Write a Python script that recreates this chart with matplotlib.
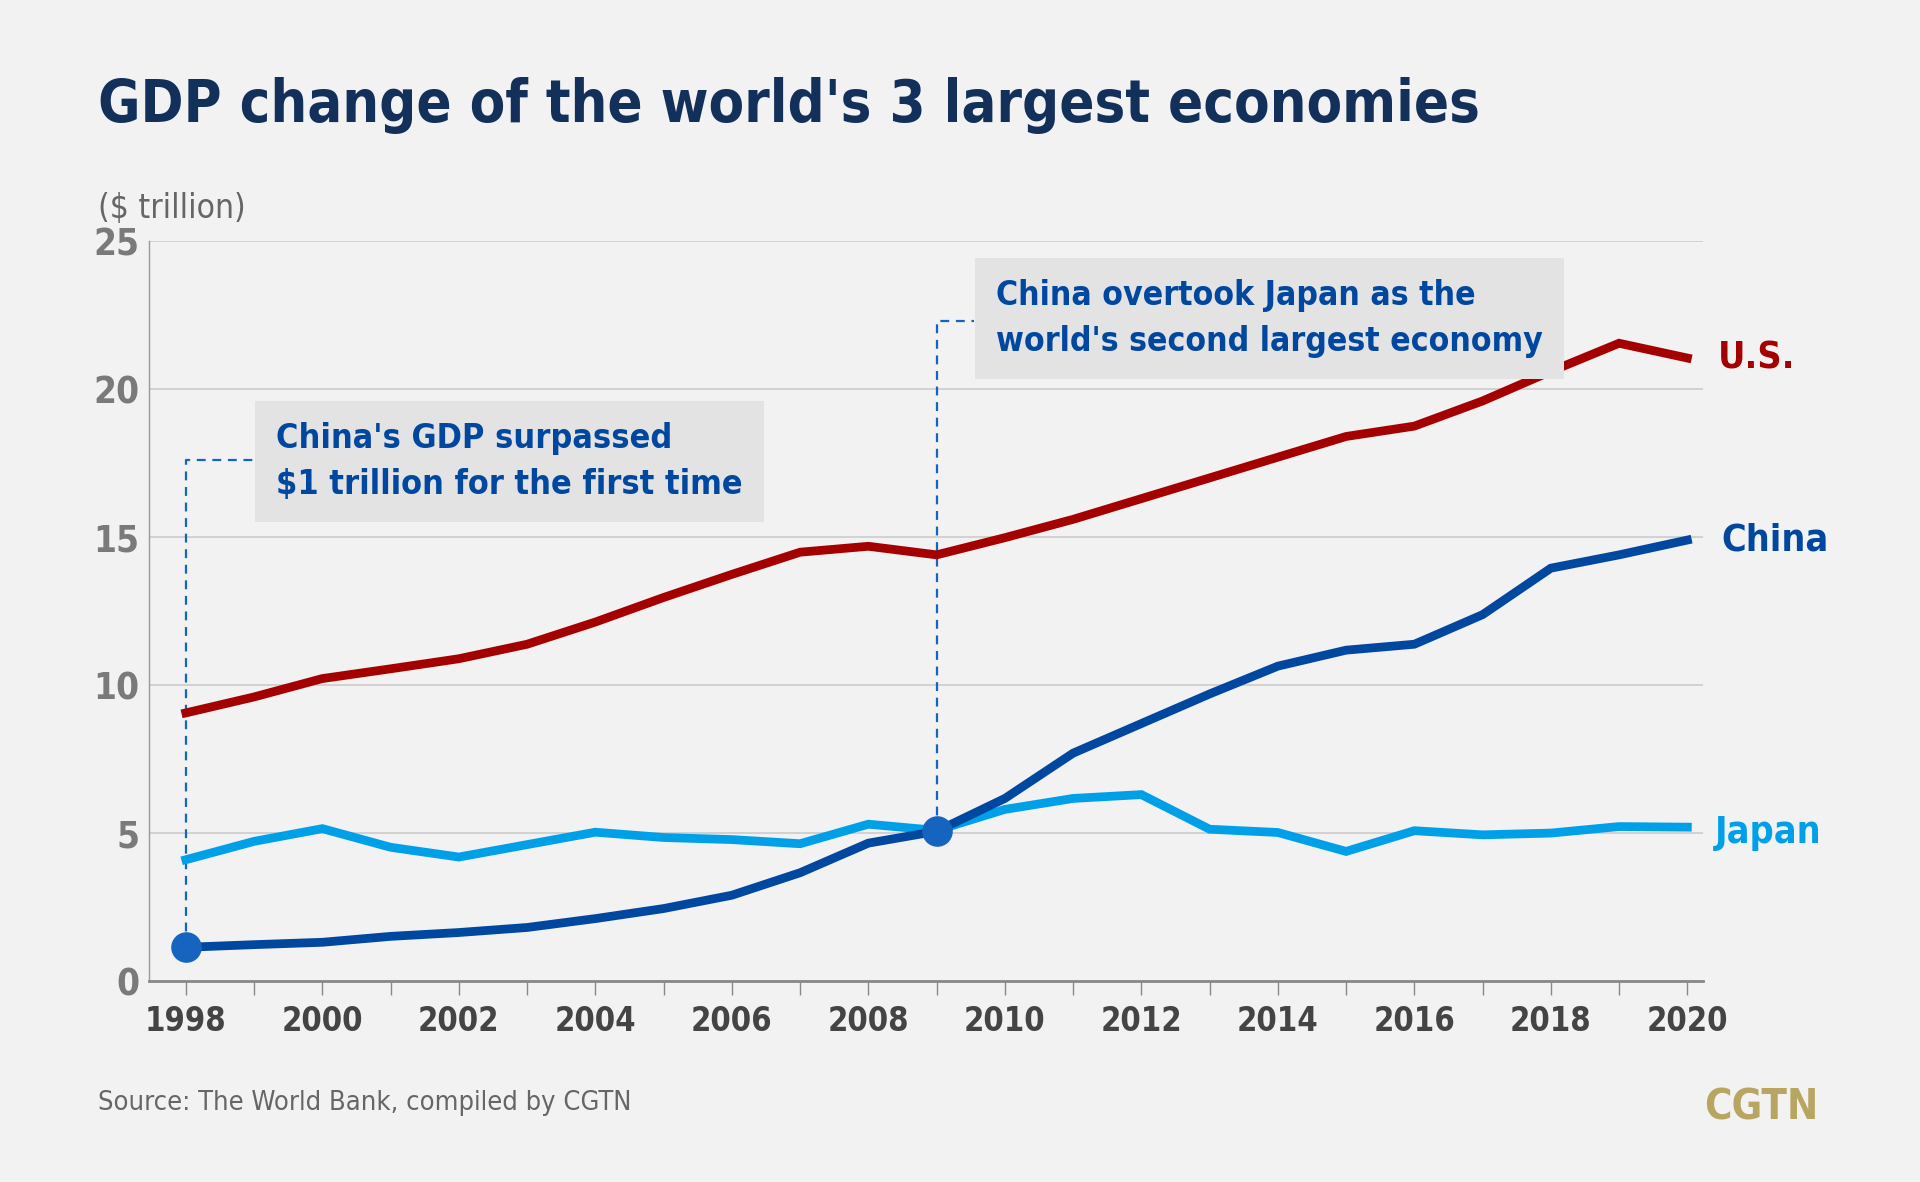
import matplotlib
matplotlib.use("Agg")
import matplotlib.pyplot as plt

plt.rcParams['font.family'] = ['DejaVu Sans']
plt.rcParams['font.stretch'] = 'condensed'

years = list(range(1998, 2021))
us = [9.06, 9.6, 10.22, 10.55, 10.89, 11.38, 12.13, 12.96, 13.74, 14.49, 14.69, 14.40,
      14.98, 15.6, 16.3, 17.0, 17.7, 18.4, 18.75, 19.6, 20.6, 21.55, 21.05]
china = [1.14, 1.23, 1.31, 1.51, 1.64, 1.81, 2.11, 2.45, 2.9, 3.66, 4.66, 5.06,
         6.17, 7.7, 8.7, 9.7, 10.64, 11.18, 11.38, 12.38, 13.95, 14.4, 14.9]
japan = [4.1, 4.72, 5.15, 4.52, 4.19, 4.61, 5.03, 4.85, 4.78, 4.64, 5.3, 5.09,
         5.8, 6.17, 6.3, 5.13, 5.02, 4.38, 5.08, 4.94, 5.0, 5.22, 5.2]
yticks = [0, 5, 10, 15, 20, 25]
xlabels = list(range(1998, 2021, 2))

BG = '#f2f2f2'
RED = '#a50000'
DBLUE = '#0047a0'
LBLUE = '#00a0e9'
NOTE = '#1565c0'

fig = plt.figure(figsize=(19.2, 11.82), dpi=100, facecolor=BG)
ax = fig.add_axes([0.0776, 0.170, 0.8094, 0.626])
ax.set_facecolor(BG)

ax.plot(years, us, color=RED, lw=6.3, solid_joinstyle='miter', zorder=3)
ax.plot(years, japan, color=LBLUE, lw=6.3, solid_joinstyle='miter', zorder=3)
ax.plot(years, china, color=DBLUE, lw=6.3, solid_joinstyle='miter', zorder=4)

ax.set_xlim(1997.46, 2020.23)
ax.set_ylim(0, 25)
ax.set_yticks(yticks)
ax.set_yticklabels([str(v) for v in yticks])
ax.set_xticks(years)
ax.set_xticklabels([str(y) if y in xlabels else '' for y in years])
ax.grid(axis='y', color='#cccccc', lw=1.2, zorder=0)
ax.tick_params(axis='y', length=0, pad=7, labelsize=26.5, labelcolor='#7a7a7a')
ax.tick_params(axis='x', length=10, width=1, color='#888888', pad=7,
               labelsize=23.5, labelcolor='#444444')
for lab in ax.get_xticklabels() + ax.get_yticklabels():
    lab.set_fontweight('bold')
for s in ['top', 'right']:
    ax.spines[s].set_visible(False)
ax.spines['left'].set_color('#999999')
ax.spines['left'].set_linewidth(1)
ax.spines['bottom'].set_color('#888888')
ax.spines['bottom'].set_linewidth(2)

# annotations
i98 = years.index(1998)
i09 = years.index(2009)
ax.plot([1998, 1998, 1999.0], [china[i98], 17.6, 17.6], ls=(0, (4, 3)),
        color=NOTE, lw=1.6, zorder=2)
ax.plot([2009, 2009, 2009.55], [china[i09], 22.3, 22.3], ls=(0, (4, 3)),
        color=NOTE, lw=1.6, zorder=2)
ax.plot([1998, 2009], [china[i98], china[i09]], 'o', ls='none', ms=21,
        color=NOTE, zorder=5)

ax.text(1999.32, 17.55, "China's GDP surpassed\n$1 trillion for the first time",
        fontsize=24.5, fontweight='bold', color=DBLUE, va='center', ha='left',
        linespacing=1.5, zorder=6,
        bbox=dict(boxstyle='square,pad=0.62', fc='#e3e3e3', ec='none'))
ax.text(2009.87, 22.38, "China overtook Japan as the\nworld's second largest economy",
        fontsize=24.2, fontweight='bold', color=DBLUE, va='center', ha='left',
        linespacing=1.5, zorder=6,
        bbox=dict(boxstyle='square,pad=0.62', fc='#e3e3e3', ec='none'))

ax.text(2020.45, us[-1], 'U.S.', fontsize=27, fontweight='bold', color=RED,
        va='center', ha='left', clip_on=False)
ax.text(2020.5, china[-1], 'China', fontsize=27, fontweight='bold', color=DBLUE,
        va='center', ha='left', clip_on=False)
ax.text(2020.4, 5.0, 'Japan', fontsize=27, fontweight='bold', color=LBLUE,
        va='center', ha='left', clip_on=False)

fig.text(0.051, 0.897, "GDP change of the world's 3 largest economies",
         fontsize=41.5, fontweight='bold', color='#12305a', va='baseline', ha='left')
fig.text(0.051, 0.824, '($ trillion)', fontsize=24, color='#666666',
         va='center', ha='left')
fig.text(0.051, 0.067, 'Source: The World Bank, compiled by CGTN', fontsize=19.5,
         color='#666666', va='center', ha='left')
fig.text(0.947, 0.063, 'CGTN', fontsize=30, fontweight='bold', color='#b9a562',
         va='center', ha='right')

fig.savefig('out.png', dpi=100, facecolor=BG)
